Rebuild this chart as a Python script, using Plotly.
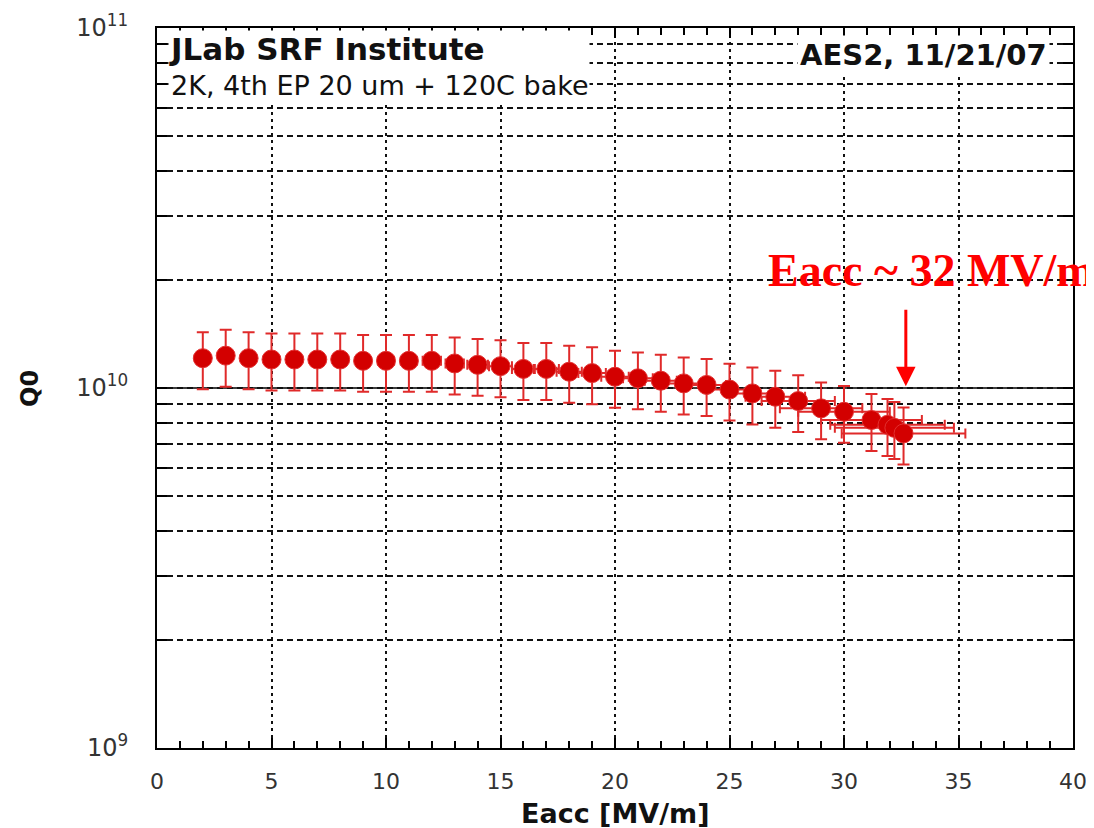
import plotly.graph_objects as go

# Data
eacc = [2, 3, 4, 5, 6, 7, 8, 9, 10, 11, 12, 13, 14, 15, 16, 17, 18, 19, 20,
        21, 22, 23, 24, 25, 26, 27, 28, 29, 30, 31.2, 31.9, 32.2, 32.6]
q0 = [1.21e10, 1.23e10, 1.21e10, 1.20e10, 1.20e10, 1.20e10, 1.20e10, 1.19e10,
      1.19e10, 1.19e10, 1.19e10, 1.17e10, 1.16e10, 1.15e10, 1.13e10, 1.13e10,
      1.11e10, 1.10e10, 1.075e10, 1.064e10, 1.048e10, 1.03e10, 1.02e10, 0.99e10,
      0.966e10, 0.946e10, 0.92e10, 0.878e10, 0.859e10, 0.815e10, 0.79e10,
      0.775e10, 0.748e10]
eacc_err = [0.1, 0.1, 0.15, 0.2, 0.2, 0.25, 0.3, 0.3, 0.35, 0.35, 0.4, 0.4,
            0.45, 0.5, 0.5, 0.55, 0.55, 0.6, 0.6, 0.65, 0.7, 0.75, 0.85, 0.95,
            1.1, 1.3, 1.6, 1.8, 2.0, 2.2, 2.5, 2.6, 2.7]
q0_err_percent = 18

x_ticks = [0, 5, 10, 15, 20, 25, 30, 35, 40]
y_tickvals = [k * 10 ** e for e in (9, 10) for k in range(1, 10)] + [1e11]
y_ticktext = [("10<sup>%d</sup>" % e if k == 1 else "") for e in (9, 10) for k in range(1, 10)] + ["10<sup>11</sup>"]

fig = go.Figure()
fig.add_trace(go.Scatter(
    x=eacc, y=q0, mode="markers",
    marker=dict(color="#d30000", size=19, line=dict(color="#e23030", width=1)),
    error_y=dict(type="percent", value=q0_err_percent, color="#e02a2a", thickness=2, width=6),
    error_x=dict(type="data", array=eacc_err, color="#e02a2a", thickness=2, width=5),
    showlegend=False,
))

fig.add_hline(y=1e10, line=dict(color="black", width=1.5), layer="below")

tickfont = dict(family="DejaVu Sans, Verdana", size=22, color="#333")

fig.update_xaxes(
    range=[0, 40], tickvals=x_ticks, ticks="inside", ticklen=10, tickwidth=1.5,
    tickcolor="black", showline=True, linewidth=2, linecolor="black", mirror="ticks",
    showgrid=True, gridcolor="#111", gridwidth=2, griddash="3px,4px",
    minor=dict(dtick=1, ticks="inside", ticklen=7, tickwidth=1.5, tickcolor="black", showgrid=False),
    tickfont=tickfont, ticklabelstandoff=13, zeroline=False, automargin=False,
)
fig.update_yaxes(
    type="log", range=[9, 11], tickvals=y_tickvals, ticktext=y_ticktext,
    ticks="inside", ticklen=10, tickwidth=1.5, tickcolor="black",
    showline=True, linewidth=2, linecolor="black", mirror="ticks",
    showgrid=True, gridcolor="#111", gridwidth=1.5, griddash="6px,4px",
    tickfont=dict(family="DejaVu Sans, Verdana", size=24, color="#333"),
    ticklabelstandoff=22, zeroline=False, automargin=False,
)

# axis titles
fig.add_annotation(
    xref="paper", yref="paper", x=0.5, y=-0.091, xanchor="center", yanchor="middle",
    text="<b>Eacc [MV/m]</b>", showarrow=False,
    font=dict(family="DejaVu Sans, Verdana", size=27, color="#111"),
)
fig.add_annotation(
    xref="paper", yref="paper", x=-0.1387, y=0.5, xanchor="center", yanchor="middle",
    text="<b>Q0</b>", showarrow=False, textangle=-90,
    font=dict(family="DejaVu Sans, Verdana", size=24, color="#111"),
)

fig.add_annotation(
    xref="paper", yref="paper", x=0.012, y=0.997, xanchor="left", yanchor="top",
    text="<b><span style='font-size:31px'>JLab SRF Institute</span></b><br>2K, 4th EP 20 um + 120C bake",
    align="left", showarrow=False, bgcolor="white", borderpad=0,
    font=dict(family="DejaVu Sans, Verdana", size=27, color="#111"),
)
fig.add_annotation(
    xref="paper", yref="paper", x=0.975, y=0.99, xanchor="right", yanchor="top",
    text="<b>AES2, 11/21/07</b>", showarrow=False, bgcolor="white", borderpad=2,
    font=dict(family="DejaVu Sans, Verdana", size=29, color="#111"),
)
fig.add_annotation(
    xref="paper", yref="paper", x=0.665, y=0.663, xanchor="left", yanchor="middle",
    text="<b>Eacc ~ 32 MV/m</b>", showarrow=False,
    font=dict(family="Liberation Serif, Times New Roman", size=46, color="#ff0000"),
)
fig.add_annotation(
    x=32.7, y=10.005, xref="x", yref="y", text="", showarrow=True,
    ax=0, ay=-78, arrowcolor="#ff0000", arrowwidth=3, arrowhead=2, arrowsize=1.3,
)

# the page adds an 8px body margin, so the figure is sized to fit inside the window
fig.update_layout(
    width=1086, height=820,
    margin=dict(l=149, r=21, t=20, b=80),
    paper_bgcolor="white", plot_bgcolor="white",
)

fig.write_html("out.html")
